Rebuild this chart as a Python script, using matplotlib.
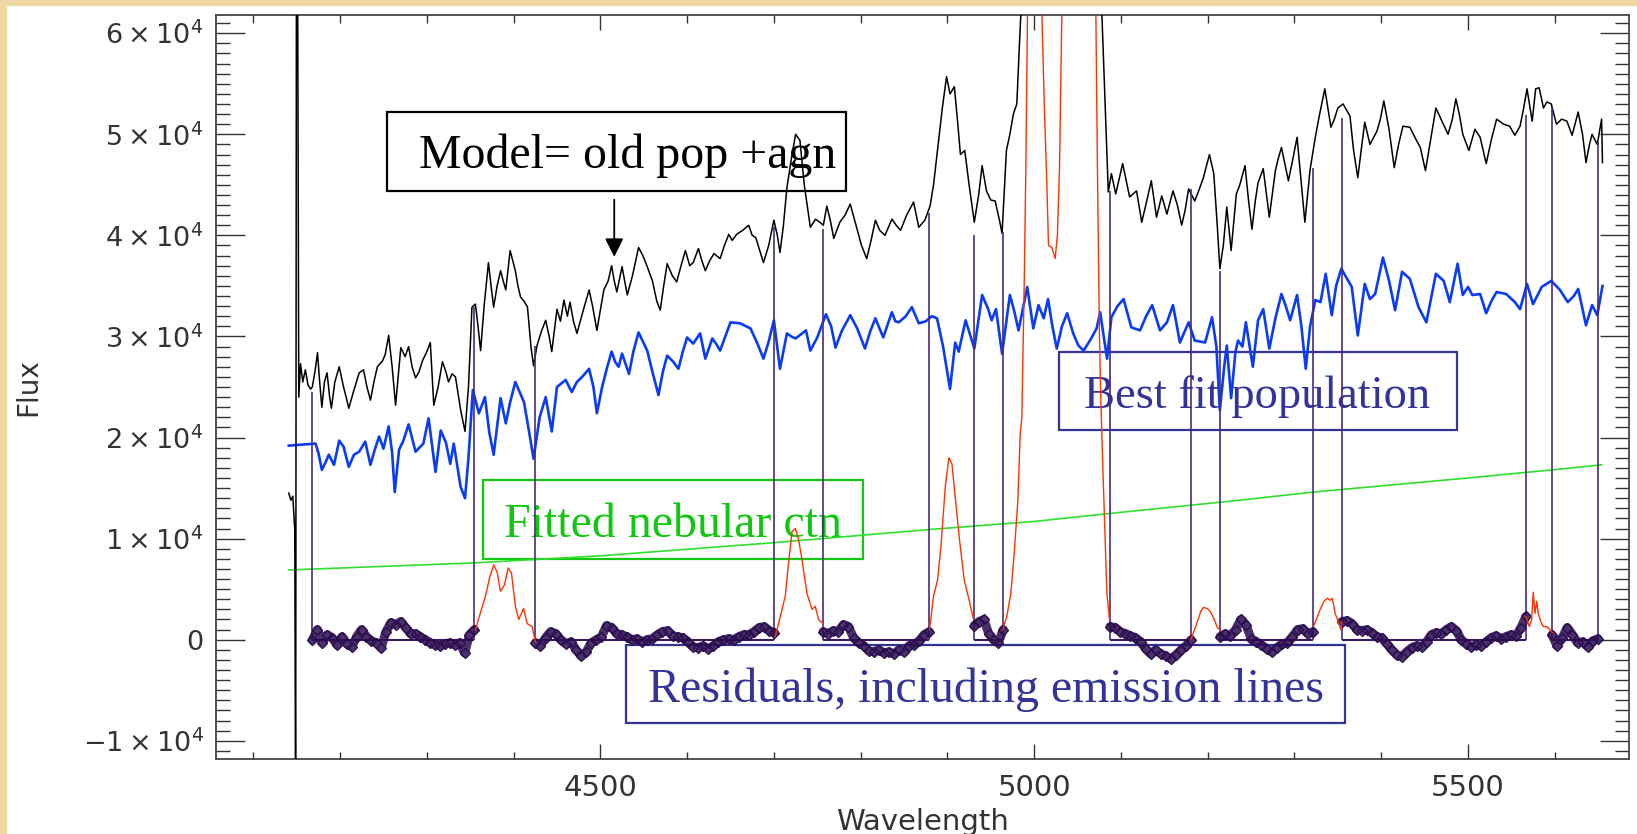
import numpy as np
import matplotlib
matplotlib.use('Agg')
import matplotlib.pyplot as plt
import matplotlib.ticker as tic
from matplotlib.patches import Rectangle

plt.rcParams['font.family'] = ['DejaVu Sans']
plt.rcParams['mathtext.fontset'] = 'dejavusans'

# observed spectrum (wavelength, flux in 1e3)
obs_w = [4140.9, 4143.2, 4145.5, 4147.8, 4148.8, 4150.0, 4152.4, 4154.4, 4157, 4160, 4163, 4166, 4168, 4171, 4174, 4176,
         4179, 4182, 4185, 4188, 4190, 4194, 4199, 4204, 4207, 4210, 4216, 4222, 4227, 4231, 4235, 4239, 4243, 4249,
         4252, 4256, 4260, 4264, 4267, 4270, 4275, 4279, 4283, 4287, 4291, 4295, 4300, 4304, 4308, 4313, 4318, 4322,
         4325, 4329, 4333, 4339, 4344, 4348, 4352, 4356, 4359, 4362, 4366, 4371, 4374, 4377, 4381, 4385, 4388, 4391,
         4396, 4399, 4402, 4405, 4408, 4412, 4416, 4420, 4423, 4427, 4432, 4437, 4441, 4444, 4450, 4454, 4458, 4462,
         4465, 4469, 4473, 4480, 4487, 4491, 4496, 4504, 4509, 4513, 4516, 4519, 4525, 4531, 4537, 4544, 4549, 4554,
         4560, 4565, 4569, 4573, 4577, 4583, 4588, 4593, 4598, 4603, 4607, 4613, 4617, 4621, 4626, 4631, 4638, 4643,
         4648, 4652, 4657, 4664, 4671, 4675, 4679, 4688, 4694, 4700, 4704, 4707, 4711, 4715, 4720, 4725, 4730, 4735,
         4742, 4748, 4753, 4757, 4761, 4765, 4769, 4776, 4782, 4788, 4796, 4801, 4807, 4812, 4817, 4822, 4828, 4836,
         4841, 4846, 4853, 4861, 4867, 4874, 4880, 4884, 4888, 4894, 4899, 4903, 4908, 4912, 4915, 4920, 4925, 4931,
         4936, 4940, 4945, 4950, 4955, 4960, 4963, 4968, 4972, 4976, 4980, 4983, 4985, 5030, 5077.8, 5085.4, 5089,
         5094, 5102, 5110, 5118, 5124, 5130, 5135, 5141, 5147, 5153, 5160, 5165, 5170, 5174, 5178, 5185, 5190, 5195,
         5202, 5207, 5211, 5214, 5218, 5222, 5227, 5233, 5237, 5243, 5247, 5251, 5255, 5258, 5264, 5271, 5278, 5281,
         5285, 5293, 5298, 5303, 5307, 5312, 5318, 5324, 5329, 5335, 5342, 5346, 5350, 5356, 5364, 5368, 5373, 5377,
         5381, 5387, 5395, 5399, 5403, 5409, 5415, 5420, 5425, 5433, 5440, 5445, 5451, 5457, 5463, 5470, 5477, 5482,
         5486, 5490, 5494, 5501, 5508, 5514, 5521, 5527, 5533, 5541, 5548, 5554, 5560, 5564, 5568, 5574, 5578, 5582,
         5587, 5591, 5596, 5602, 5608, 5614, 5620, 5627, 5632, 5636, 5640, 5643, 5649, 5654, 5655]
obs_f = [14.5, 13.8, 14.2, 10.9, -20, 100, 24.0, 27.3, 25.5, 26.7, 25.2, 24.8, 25.0, 26.5, 28.4, 26.0,
         23.0, 25.5, 26.4, 24.0, 22.9, 25.5, 27.0, 25.0, 24.0, 22.9, 24.7, 26.4, 26.7, 25.0, 23.7, 25.5, 27.0, 27.6,
         28.2, 30.1, 27.0, 23.2, 26.0, 28.9, 28.0, 29.0, 27.0, 25.9, 26.5, 27.6, 28.5, 29.4, 23.2, 25.0, 27.5, 26.5,
         25.5, 26.3, 26.0, 22.7, 20.6, 25.0, 32.9, 33.2, 31.0, 28.6, 33.0, 37.3, 35.0, 32.9, 35.0, 36.5, 35.5, 34.6,
         38.5, 37.5, 36.5, 35.0, 33.9, 33.5, 32.9, 29.0, 27.1, 29.1, 30.5, 31.6, 30.0, 28.5, 32.7, 31.5, 33.6, 32.0,
         33.4, 31.5, 30.3, 32.5, 34.6, 33.0, 30.6, 34.6, 35.5, 37.0, 35.5, 34.4, 36.9, 34.1, 36.0, 38.8, 38.0, 36.9,
         35.5, 33.5, 32.6, 35.0, 37.2, 36.0, 35.4, 37.0, 38.5, 37.0, 37.3, 38.7, 37.5, 36.5, 37.5, 38.2, 37.7, 39.0,
         40.1, 39.5, 40.1, 40.5, 41.0, 40.0, 39.8, 37.3, 39.0, 41.5, 40.0, 38.3, 41.0, 44.7, 47.5, 50.0, 49.4, 45.0,
         40.8, 41.6, 41.3, 41.0, 42.9, 41.5, 39.7, 41.3, 42.0, 43.1, 40.6, 39.0, 37.7, 39.5, 41.5, 40.5, 40.0, 41.6,
         41.0, 40.5, 42.0, 43.3, 40.8, 41.5, 42.9, 45.0, 48.0, 52.5, 55.7, 54.0, 54.7, 51.0, 48.0, 48.4, 45.0, 41.3,
         44.0, 46.9, 44.4, 43.5, 43.4, 41.5, 40.2, 48.4, 50.0, 52.0, 53.0, 58.9, 62.5, 120, 62.5, 44.3, 46.1,
         44.1, 47.1, 43.8, 44.4, 41.3, 43.5, 45.4, 41.8, 43.9, 42.1, 44.4, 43.0, 41.0, 42.5, 44.6, 43.4, 44.5, 45.7,
         48.0, 46.1, 41.0, 36.7, 39.0, 42.8, 38.5, 44.1, 45.0, 46.9, 43.5, 40.6, 43.5, 45.2, 46.6, 41.8, 46.4, 47.5,
         48.7, 45.4, 47.5, 49.7, 46.0, 41.3, 46.5, 49.7, 52.0, 54.5, 50.7, 51.5, 52.6, 53.0, 51.8, 48.5, 45.7, 48.5,
         51.2, 49.0, 50.3, 51.5, 53.3, 50.5, 46.7, 49.0, 50.8, 50.7, 49.5, 48.7, 46.4, 49.5, 52.6, 51.3, 50.0, 51.5,
         53.5, 52.0, 50.0, 48.4, 50.5, 49.7, 47.1, 49.5, 51.5, 51.0, 50.8, 49.9, 50.8, 52.5, 54.5, 51.3, 54.5, 54.6,
         52.6, 53.2, 53.0, 51.0, 51.5, 51.3, 49.9, 52.2, 50.0, 47.2, 49.0, 50.0, 49.0, 51.5, 47.2]

# best fit population
fit_w = [4140.9, 4171.7, 4175, 4179, 4183, 4187, 4193, 4199, 4204, 4210, 4216, 4222, 4229, 4235, 4240, 4245, 4250,
         4256, 4260, 4263, 4268, 4273, 4279, 4287, 4296, 4302, 4310, 4316, 4322, 4327, 4331, 4339, 4344, 4348, 4353,
         4360, 4367, 4372, 4377, 4385, 4391, 4396, 4402, 4407, 4412, 4418, 4423, 4430, 4437, 4444, 4450, 4460, 4467,
         4473, 4479, 4487, 4492, 4496, 4502, 4508, 4513, 4517, 4521, 4525, 4533, 4538, 4544, 4549, 4554, 4560, 4567,
         4572, 4577, 4584, 4590, 4595, 4600, 4607, 4615, 4621, 4629, 4634, 4638, 4644, 4650, 4661, 4673, 4681, 4688,
         4694, 4700, 4707, 4715, 4720, 4725, 4737, 4742, 4750, 4760, 4766, 4771, 4778, 4788, 4796, 4805, 4811, 4817,
         4826, 4836, 4840, 4844, 4852, 4859, 4867, 4875, 4882, 4888, 4895, 4903, 4909, 4913, 4921, 4931, 4940, 4947,
         4951, 4956, 4963, 4972, 4977, 4982, 4992, 4999, 5005, 5011, 5016, 5021, 5026, 5032, 5038, 5045, 5051, 5057,
         5065, 5072, 5076, 5084, 5089, 5096, 5103, 5112, 5122, 5129, 5136, 5145, 5153, 5160, 5168, 5178, 5185, 5191,
         5197, 5205, 5210, 5214, 5219, 5222, 5227, 5232, 5235, 5240, 5244, 5252, 5258, 5264, 5271, 5278, 5285, 5290,
         5295, 5303, 5308, 5313, 5318, 5324, 5330, 5336, 5343, 5348, 5354, 5360, 5366, 5373, 5381, 5387, 5393, 5402,
         5409, 5416, 5424, 5433, 5443, 5452, 5458, 5463, 5472, 5479, 5488, 5494, 5500, 5505, 5514, 5521, 5527, 5533,
         5544, 5554, 5560, 5568, 5575, 5585, 5596, 5606, 5615, 5622, 5627, 5636, 5643, 5649, 5655]
fit_f = [19.2, 19.4, 18.5, 16.8, 17.5, 18.3, 17.3, 19.7, 19.1, 17.1, 18.3, 18.6, 19.6, 17.3, 18.8, 20.1, 18.9,
         21.1, 18.5, 14.6, 18.8, 19.7, 21.3, 18.6, 19.4, 21.9, 16.6, 20.7, 19.5, 17.4, 19.4, 15.1, 14.0, 18.0, 24.7,
         22.4, 24.0, 20.5, 18.3, 23.9, 21.4, 23.5, 25.5, 24.5, 23.5, 20.5, 17.9, 22.0, 24.0, 20.6, 25.0, 25.7, 24.5,
         25.5, 26.0, 26.8, 25.0, 22.4, 25.0, 27.0, 28.5, 27.5, 27.0, 28.3, 26.3, 28.5, 30.4, 29.5, 28.6, 26.5, 24.2,
         26.5, 28.1, 27.5, 26.8, 28.5, 29.9, 29.3, 30.3, 27.8, 29.8, 29.2, 28.6, 30.0, 31.4, 31.3, 30.8, 29.3, 27.8,
         29.5, 31.6, 26.8, 30.3, 30.0, 29.8, 30.6, 28.6, 29.9, 32.2, 31.0, 28.9, 30.5, 32.1, 30.8, 28.8, 30.5, 31.8,
         29.9, 32.4, 31.5, 31.4, 32.0, 32.9, 31.3, 31.5, 32.0, 31.8, 29.0, 24.8, 29.4, 28.5, 31.6, 28.8, 34.1, 32.7,
         31.6, 32.7, 28.3, 34.1, 32.5, 30.6, 34.9, 30.8, 33.1, 31.8, 33.7, 31.0, 28.8, 31.0, 32.3, 30.3, 29.1, 28.6,
         29.7, 30.8, 32.4, 27.8, 31.9, 33.0, 33.7, 30.9, 30.6, 32.0, 33.1, 30.6, 31.4, 33.1, 29.4, 31.4, 29.6, 29.5,
         29.4, 31.9, 29.0, 22.7, 27.0, 29.1, 23.9, 28.5, 29.6, 29.0, 31.4, 27.0, 31.6, 32.7, 28.8, 31.8, 34.2, 33.0,
         31.6, 34.1, 31.0, 26.8, 31.0, 33.6, 33.4, 36.2, 32.1, 35.0, 36.7, 35.8, 34.9, 30.1, 35.2, 33.7, 34.2, 37.8,
         35.5, 32.6, 36.4, 35.7, 32.9, 31.4, 34.0, 36.2, 35.5, 33.4, 37.2, 34.1, 34.9, 34.1, 34.2, 32.3, 33.5, 34.4,
         34.2, 33.4, 32.7, 35.2, 33.2, 34.9, 35.5, 34.6, 33.4, 34.0, 34.7, 31.1, 33.1, 32.1, 35.0]

# fitted nebular continuum
neb_w = [4141, 4355, 4500, 4700, 4879, 5000, 5088, 5237, 5321, 5500, 5597, 5654]
neb_f = [6.9, 7.6, 8.3, 9.6, 10.9, 11.7, 12.5, 13.8, 14.6, 16.0, 16.8, 17.3]

# residuals in emission windows (nan = break between windows)
em_w = [4356.0, 4359.8, 4367.5, 4372.5, 4377.1, 4381.0, 4384.8, 4389.4, 4393.7, 4397.5, 4402.1, 4405.9, 4411.6,
        4415.6, 4421.3, 4425.1, np.nan,
        4701.6, 4707.4, 4713.1, 4716.9, 4720.9, 4724.7, 4728.5, 4732.4, 4738.1, 4743.9, 4747.7, 4751.5, 4756.6, np.nan,
        4879.4, 4884.0, 4888.6, 4892.5, 4897.5, 4901.7, 4905.2, 4909.0, 4913.9, 4919.4, 4925.1, 4930.1, np.nan,
        4963.9, 4968.5, 4973.1, 4977.3, 4981.2, 4983.9, 4985.8, 4988.5, 4990.4, 4992.3, 5000.6, 5008.9, 5011.5,
        5014.6, 5016.5, 5020.4, 5024.2, 5026.8, 5029.2, 5031.9, 5050.7, 5071.1, 5072.9, 5075.2, 5076.8, 5079.1,
        5081.8, 5083.8, 5086.8, np.nan,
        5180.5, 5183.5, 5187.4, 5192.0, 5195.1, 5199.0, 5202.0, 5204.7, 5208.5, 5211.2, 5214.3, np.nan,
        5321.8, 5325.7, 5329.5, 5334.1, 5337.9, 5341.0, 5343.7, 5346.8, 5350.6, 5353.4, 5354.8, np.nan,
        5566.8, 5570.6, 5573.4, 5575.2, 5577.2, 5579.2, 5581.0, 5583.8, 5586.8, 5590.7, 5594.5, 5597.2]
em_f = [1.0, 2.1, 4.3, 6.2, 7.4, 6.7, 4.8, 5.4, 7.1, 6.6, 3.3, 2.0, 3.1, 1.6, 1.3, -0.2, np.nan,
        0.3, 2.3, 4.3, 7.6, 10.7, 11.0, 9.9, 7.9, 4.6, 3.0, 3.3, 2.0, 1.6, np.nan,
        1.0, 4.3, 5.9, 9.2, 15.1, 18.0, 17.4, 14.1, 9.9, 5.9, 3.9, 2.0, np.nan,
        1.0, 2.3, 4.6, 8.9, 13.8, 20.4, 22.0, 35.2, 46.7, 61.9, 95, 61.9, 53.3,
        45.1, 39.0, 38.8, 37.7, 40.1, 46.7, 61.9, 120, 61.9, 46.7, 30.3, 23.7, 17.1,
        9.9, 4.6, 2.0, np.nan,
        0.0, 0.7, 1.6, 2.8, 3.2, 3.1, 2.9, 2.5, 1.8, 1.2, 1.0, np.nan,
        1.3, 2.1, 3.0, 3.8, 4.1, 3.9, 4.1, 2.6, 1.8, 1.0, 1.8, np.nan,
        2.3, 1.3, 2.0, 4.7, 2.6, 3.8, 2.6, 1.8, 1.3, 1.3, 1.0, 0.7]

# continuum windows: edges and spectrum level at the edges
win_lo = [4168.2, 4425.1, 4756.9, 4930.9, 5087.6, 5214.3, 5354.8, 5596.8]
win_hi = [4354.8, 4700.5, 4879.0, 4964.3, 5180.9, 5321.4, 5566.8, 5649.8]
top_lo = [24.5, 29.1, 40.6, 40.0, 44.4, 36.5, 51.6, 52.7]
top_hi = [32.9, 40.8, 42.2, 40.3, 44.6, 46.7, 51.9, 49.2]

# residuals in each continuum window, evenly sampled
res = [
    [0.0, 1.0, -0.3, 0.5, 0.2, -0.5, 0.3, -0.4, -0.7, 0.3, 1.0, 0.3, -0.1, -0.3, -0.8, 0.8, 1.7, 1.5, 1.8, 1.2,
     0.6, 0.6, 0.3, 0.0, -0.3, -0.5, -0.6, -0.4, -0.3, -0.5, -0.3, -1.3, 0.5, 1.0],
    [-0.3, -0.6, 0.2, 0.8, 0.6, 0.0, -0.4, -0.2, -1.0, -1.6, -1.2, -0.3, 0.0, 0.3, 1.4, 1.2, 0.6, 0.5, 0.3, 0.0,
     0.1, -0.2, 0.0, 0.1, 0.5, 0.8, 0.9, 0.4, 0.3, 0.2, -0.2, -0.7, -0.8, -0.6, -0.9, -0.6, -0.2, 0.0, 0.1, 0.0,
     0.3, 0.5, 0.5, 0.8, 1.2, 1.3, 0.9, 0.7],
    [0.8, 0.6, 0.9, 0.8, 1.5, 1.3, 0.2, -0.3, -0.6, -1.1, -1.2, -1.0, -1.3, -1.2, -1.4, -1.0, -1.2, -0.6, -0.5,
     -0.1, 0.5, 0.8],
    [1.4, 1.8, 2.0, 0.6, 0.0, -0.3, 1.0],
    [1.3, 1.2, 0.8, 0.6, 0.4, 0.2, -0.2, -0.9, -1.4, -1.0, -1.4, -1.6, -1.9, -1.5, -1.0, -0.6, 0.0],
    [0.3, 0.6, 0.4, 1.0, 2.0, 1.5, 0.1, -0.2, -0.5, -0.9, -1.2, -0.8, -0.4, -0.3, 0.3, 1.0, 1.1, 0.6, 0.8],
    [1.8, 1.9, 1.6, 1.0, 0.9, 1.0, 0.7, 0.3, 0.2, -0.4, -1.0, -1.5, -1.7, -1.2, -0.8, -0.6, -0.7, -0.2, 0.5, 0.7,
     0.6, 1.0, 1.3, 0.9, 0.0, -0.4, -0.7, -0.5, -0.6, -0.2, 0.2, 0.4, 0.1, 0.3, 0.5, 0.4, 1.2, 2.3],
    [0.5, -0.6, 0.2, 1.2, 0.5, -0.3, -0.2, -0.7, -0.1, 0.1],
]

k = 1e3
fig = plt.figure(figsize=(16.37, 8.34), dpi=100)
fig.patches.append(Rectangle((0, 1 - 5 / 834), 1, 5 / 834, transform=fig.transFigure, color='#efd8a6', zorder=0))
fig.patches.append(Rectangle((0, 0), 6 / 1637, 1, transform=fig.transFigure, color='#efd8a6', zorder=0))
ax = fig.add_axes([0.13195, 0.08993, 0.86286, 0.89208])

ax.plot(neb_w, np.array(neb_f) * k, color='#2fe02f', lw=1.2, zorder=2)
ax.plot(fit_w, np.array(fit_f) * k, color='#0a3cf5', lw=1.9, zorder=3)
ax.plot(obs_w, np.array(obs_f) * k, color='black', lw=1.1, zorder=4)

purp = '#4a2a7e'
ax.vlines(win_lo, 0, np.array(top_lo) * k, color=purp, lw=1.2, zorder=5)
ax.vlines(win_hi, 0, np.array(top_hi) * k, color=purp, lw=1.2, zorder=5)
ax.hlines(np.zeros(len(win_lo)), win_lo, win_hi, color='#3a1a66', lw=1.5, zorder=5)

for lo, hi, r in zip(win_lo, win_hi, res):
    w = np.linspace(lo, hi, len(r))
    ax.plot(w, np.array(r) * k, color='#2b0d4f', lw=6.5, alpha=0.85, solid_capstyle='round', zorder=6)
    ax.plot(w, np.array(r) * k, ls='none', marker='D', ms=5.5, mfc='none', mec='#2b0d4f', mew=1.0, zorder=6)

ax.plot(em_w, np.array(em_f) * k, color='#ff3300', lw=1.0, zorder=6)

ax.set_xlim(4057, 5685)
ax.set_ylim(-11800, 61800)

ax.xaxis.set_major_locator(tic.MultipleLocator(500))
ax.xaxis.set_minor_locator(tic.MultipleLocator(100))
ax.yaxis.set_major_locator(tic.MultipleLocator(10000))
ax.yaxis.set_minor_locator(tic.MultipleLocator(1000))


def yfmt(v, pos):
    n = int(round(v / 1e4))
    if n == 0:
        return '0'
    return r'$%d\times10^{4}$' % n


ax.yaxis.set_major_formatter(tic.FuncFormatter(yfmt))
ax.tick_params(axis='x', which='major', direction='in', length=10.8, width=1.0, top=True, labelsize=21, pad=11,
               colors='#333333')
ax.tick_params(axis='x', which='minor', direction='in', length=5.4, width=1.0, top=True, colors='#333333')
ax.tick_params(axis='y', which='major', direction='in', length=20.9, width=1.0, right=True, labelsize=19.5, pad=9,
               colors='#333333')
ax.tick_params(axis='y', which='minor', direction='in', length=10.0, width=1.0, right=True, colors='#333333')
for s in ax.spines.values():
    s.set_color('#444444')
    s.set_linewidth(1.3)

ax.set_xlabel('Wavelength', fontsize=21, color='#333333')
ax.xaxis.set_label_coords(0.5, -0.066)
ax.set_ylabel('Flux', fontsize=20, color='#333333')
ax.yaxis.set_label_coords(-0.1232, 0.5)

serif = 'Liberation Serif'
fs = 34.5
ax.add_patch(Rectangle((0.1211, 0.7634), 0.3249, 0.1062, transform=ax.transAxes, fill=False, ec='black', lw=1.6,
                       zorder=1))
ax.text(0.2917, 0.7944, 'Model= old pop +agn', transform=ax.transAxes, ha='center', va='baseline', fontsize=fs,
        family=serif, color='black', zorder=1)
ax.annotate('', xy=(4516, 37600), xytext=(4516, 43800),
            arrowprops=dict(arrowstyle='-|>', color='black', lw=1.3, mutation_scale=28), zorder=7)

ax.add_patch(Rectangle((0.1888, 0.2688), 0.2691, 0.1062, transform=ax.transAxes, fill=False, ec='#10c810', lw=1.6,
                       zorder=1))
ax.text(0.3232, 0.2988, 'Fitted nebular ctn', transform=ax.transAxes, ha='center', va='baseline', fontsize=fs,
        family=serif, color='#10c810', zorder=1)

navy = '#333399'
ax.add_patch(Rectangle((0.5968, 0.4422), 0.2820, 0.1052, transform=ax.transAxes, fill=False, ec=navy, lw=1.6,
                       zorder=1))
ax.text(0.7373, 0.4718, 'Best fit population', transform=ax.transAxes, ha='center', va='baseline', fontsize=33.5,
        family=serif, color=navy, zorder=1)

ax.add_patch(Rectangle((0.2903, 0.0480), 0.5090, 0.1052, transform=ax.transAxes, fill=False, ec=navy, lw=1.6,
                       zorder=1))
ax.text(0.5448, 0.0770, 'Residuals, including emission lines', transform=ax.transAxes, ha='center',
        va='baseline', fontsize=fs, family=serif, color=navy, zorder=1)

fig.savefig('out.png', dpi=100)
